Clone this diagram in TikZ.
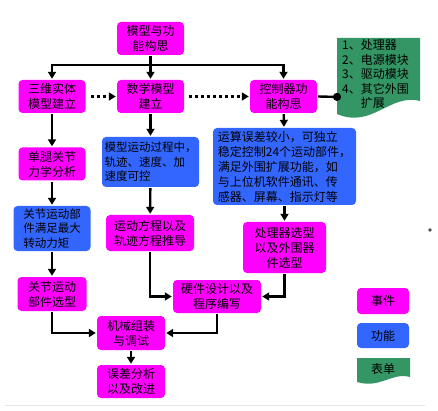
\documentclass[tikz,border=0pt]{standalone}
\usepackage{fontspec}
\setmainfont{Noto Sans CJK SC}
\usetikzlibrary{arrows.meta}

\definecolor{evtpink}{RGB}{255,0,255}
\definecolor{funblue}{RGB}{51,102,255}
\definecolor{docgreen}{RGB}{51,150,100}

\begin{document}
\begin{tikzpicture}[x=1pt, y=-1pt,
    >={Triangle[length=7pt,width=8pt]}, line width=2.4pt,
    box/.style={rounded corners=4pt, inner sep=2pt, text=black,
                font=\fontsize{12}{15}\selectfont},
    event/.style={box, fill=evtpink, align=center,
                  minimum width=67pt, minimum height=33pt},
    func/.style={box, fill=funblue, align=left},
    small/.style={font=\fontsize{11.5}{14.5}\selectfont},
    flow/.style={->},
    hint/.style={->, dash pattern=on 3pt off 3pt, shorten <=4pt}
  ]
  \useasboundingbox (0,0) rectangle (438,411);

  \node[event] (idea)  at (150.5,38.5) {模型与功\\能构思};
  \node[event] (solid) at (52,96.5)    {三维实体\\模型建立};
  \node[event] (math)  at (150.5,96.5) {数学模型\\建立};
  \node[event] (ctrl)  at (283.5,96.5) {控制器功\\能构思};

  % left column
  \node[event] (leg) at (52,164) {单腿关节\\力学分析};
  \node[func, small, minimum width=77pt, minimum height=45pt] (torque)
        at (52,228.5) {关节运动部\\件满足最大\\转动力矩};
  \node[event, minimum width=69pt, minimum height=34pt] (joint)
        at (52,294) {关节运动\\部件选型};

  % middle column
  \node[func, small, minimum width=97pt, minimum height=50pt] (track)
        at (150.5,162) {模型运动过程中，\\轨迹、速度、加\\速度可控};
  \node[event, minimum width=88pt, minimum height=36pt] (eqn)
        at (150,233) {运动方程以及\\轨迹方程推导};

  % right column
  \node[func, minimum width=143pt, minimum height=77pt] (calc)
        at (284.5,166.5) {运算误差较小，可独立\\稳定控制24个运动部件，\\满足外围扩展功能，如\\与上位机软件通讯、传\\感器、屏幕、指示灯等};
  \node[event, minimum width=83pt, minimum height=51pt] (chip)
        at (284.5,247.5) {处理器选型\\以及外围器\\件选型};

  \node[event, minimum width=88pt, minimum height=33pt] (hw)
        at (217,296.5) {硬件设计以及\\程序编写};
  \node[event, minimum width=68pt, minimum height=34pt] (asm)
        at (131,333) {机械组装\\与调试};
  \node[event, minimum width=68pt, minimum height=33pt] (err)
        at (131,381.5) {误差分析\\以及改进};

  % parts list
  \fill[docgreen] (337,38) -- (420,38) -- (420,101)
        .. controls (390,93) and (372,129) .. (337,114) -- cycle;
  \node[anchor=north west, align=left, inner sep=0pt,
        font=\fontsize{12}{14.5}\selectfont] (doc) at (341,38.5)
        {1、处理器\\2、电源模块\\3、驱动模块\\4、其它外围\\\phantom{4、}扩展};
  \coordinate (docin) at (341,97);

  % legend
  \node[event, minimum width=52pt, minimum height=26pt] (lgEvt) at (383,301) {事件};
  \node[func, align=center, minimum width=52pt, minimum height=25pt] (lgFun)
        at (383,335.5) {功能};
  \fill[docgreen] (357,358) -- (410,358) -- (410,377)
        .. controls (392,372) and (380,389) .. (357,382) -- cycle;
  \node[font=\fontsize{12}{15}\selectfont] (lgDoc) at (383,368.5) {表单};

  % branching from the concept box
  \draw (idea.south) -- ++(0,9) coordinate (split);
  \draw[flow] (split) -- (math.north);
  \draw[flow] (split) -| (solid.north);
  \draw[flow] (split) -| (ctrl.north);

  % dotted hints
  \draw[hint] (solid) -- (math);
  \draw[hint] (math) -- (ctrl);
  \draw[-{Circle[length=8pt]}] (ctrl.east) -- (docin);

  \draw[flow] (solid) -- (leg);
  \draw[flow] (leg) -- (torque);
  \draw[flow] (torque) -- (joint);
  \draw[flow] (math) -- (track);
  \draw[flow] (track) -- (eqn);
  \draw[flow] (ctrl) -- (calc);
  \draw[flow] (calc) -- (chip);

  % merging into assembly
  \draw[flow] (joint.south) |- (asm.west);
  \draw[flow] (eqn.south) |- (hw.west);
  \draw[flow] (chip.south) |- (hw.east);
  \draw[flow] (hw.south) |- (asm.east);
  \draw[flow] (asm) -- (err);

  % stray marks of the scan
  \fill[black!70] (430,230) circle (1.8pt);
  \draw[black!10, line width=1pt] (5,405) -- (425,405);
\end{tikzpicture}
\end{document}
